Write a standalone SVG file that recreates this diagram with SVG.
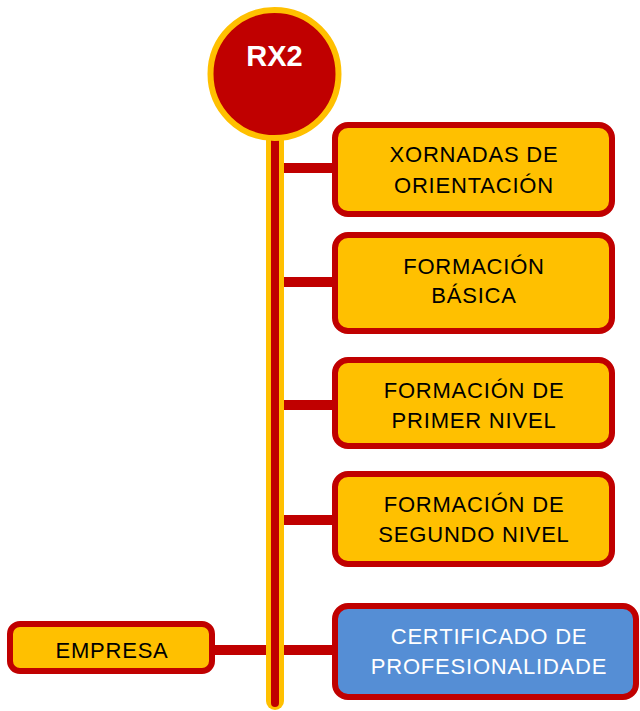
<svg xmlns="http://www.w3.org/2000/svg" width="640" height="711" viewBox="0 0 640 711">
<style>
.box{fill:#FFC000;stroke:#C00000;stroke-width:6}
.blue{fill:#558ED5;stroke:#C00000;stroke-width:6}
.t{font-family:"Liberation Sans",Arial,sans-serif;font-size:22px;fill:#000;text-anchor:middle;letter-spacing:0.8px}
.w{fill:#fff}
.conn{stroke:#C00000;stroke-width:10;fill:none}
</style>
<rect width="640" height="711" fill="#fff"/>
<g id="connectors">
<line class="conn" x1="284" y1="168" x2="336" y2="168"/>
<line class="conn" x1="284" y1="282" x2="336" y2="282"/>
<line class="conn" x1="284" y1="405" x2="336" y2="405"/>
<line class="conn" x1="284" y1="520" x2="336" y2="520"/>
<line class="conn" x1="284" y1="650" x2="336" y2="650"/>
<line class="conn" x1="210" y1="650" x2="266" y2="650"/>
<line x1="275" y1="120" x2="275" y2="701" stroke="#FFC000" stroke-width="18" stroke-linecap="round"/>
<line x1="275" y1="120" x2="275" y2="703" stroke="#C00000" stroke-width="8" stroke-linecap="round"/>
</g>
<g id="rx2">
<circle cx="274.5" cy="74" r="64" fill="#C00000" stroke="#FFC000" stroke-width="6"/>
<text x="274.5" y="66" font-family="Liberation Sans,Arial,sans-serif" font-size="29" font-weight="bold" fill="#fff" text-anchor="middle">RX2</text>
</g>
<g id="xornadas">
<rect class="box" x="335" y="125" width="277" height="89" rx="13"/>
<text class="t" x="474" y="162">XORNADAS DE</text>
<text class="t" x="474" y="193">ORIENTACIÓN</text>
</g>
<g id="basica">
<rect class="box" x="335" y="235" width="277" height="96" rx="13"/>
<text class="t" x="474" y="274">FORMACIÓN</text>
<text class="t" x="474" y="303">BÁSICA</text>
</g>
<g id="primer">
<rect class="box" x="335" y="360" width="277" height="86" rx="13"/>
<text class="t" x="474" y="398">FORMACIÓN DE</text>
<text class="t" x="474" y="428">PRIMER NIVEL</text>
</g>
<g id="segundo">
<rect class="box" x="335" y="474" width="277" height="90" rx="13"/>
<text class="t" x="474" y="512">FORMACIÓN DE</text>
<text class="t" x="474" y="542">SEGUNDO NIVEL</text>
</g>
<g id="certificado">
<rect class="blue" x="335" y="606" width="301" height="91" rx="13"/>
<text class="t w" x="489" y="644">CERTIFICADO DE</text>
<text class="t w" x="489" y="674">PROFESIONALIDADE</text>
</g>
<g id="empresa">
<rect class="box" x="10" y="624" width="202" height="47" rx="10"/>
<text class="t" x="112" y="658">EMPRESA</text>
</g>
</svg>
